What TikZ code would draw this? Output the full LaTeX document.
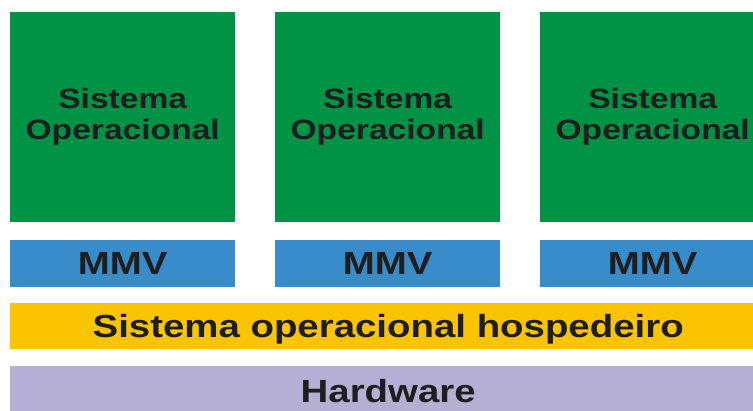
\documentclass[tikz,border=0pt]{standalone}
\usepackage{fontspec}
\setmainfont{Liberation Sans}[FakeStretch=1.2]
\definecolor{soGreen}{RGB}{0,146,69}
\definecolor{mmvBlue}{RGB}{56,140,202}
\definecolor{hostYellow}{RGB}{250,196,0}
\definecolor{hwLilac}{RGB}{181,174,213}
\definecolor{txtDark}{RGB}{30,30,30}
\tikzset{
    SO/.style ={rectangle, fill=soGreen, minimum width=225pt, minimum height=210pt, inner sep=0pt, anchor=north west},
    MV/.style ={rectangle, fill=mmvBlue, minimum width=225pt, minimum height=47pt, inner sep=0pt, anchor=north west},
    BAR/.style ={rectangle, minimum width=756pt, minimum height=46pt, inner sep=0pt, anchor=north west},
    TX/.style ={text=txtDark, font=\bfseries\fontsize{32}{32}\selectfont},
    TS/.style ={text=txtDark, align=center, font=\bfseries\fontsize{28}{31}\selectfont}}

\begin{document}
\begin{tikzpicture}[x=1pt,y=-1pt]
        \clip (0,0) rectangle (753,410);
        \fill[white] (0,0) rectangle (753,410);
        % guests
        \node[SO] (so1) at (10,12) {};
        \node[SO] (so2) at (275,12) {};
        \node[SO] (so3) at (540,12) {};
        \node[TS] at (so1.center) {Sistema\\Operacional};
        \node[TS] at (so2.center) {Sistema\\Operacional};
        \node[TS] at (so3.center) {Sistema\\Operacional};
        % monitors
        \node[MV] (mv1) at (10,240) {};
        \node[MV] (mv2) at (275,240) {};
        \node[MV] (mv3) at (540,240) {};
        \node[TX] at (mv1.center) {MMV};
        \node[TX] at (mv2.center) {MMV};
        \node[TX] at (mv3.center) {MMV};
        % host and hardware
        \node[BAR, fill=hostYellow] (host) at (10,303) {};
        \node[BAR, fill=hwLilac] (hw) at (10,366) {};
        \node[TX] at ([yshift=-3pt]host.center) {Sistema operacional hospedeiro};
        \node[TX] at ([yshift=-2pt]hw.center) {Hardware};
    \end{tikzpicture}
\end{document}
